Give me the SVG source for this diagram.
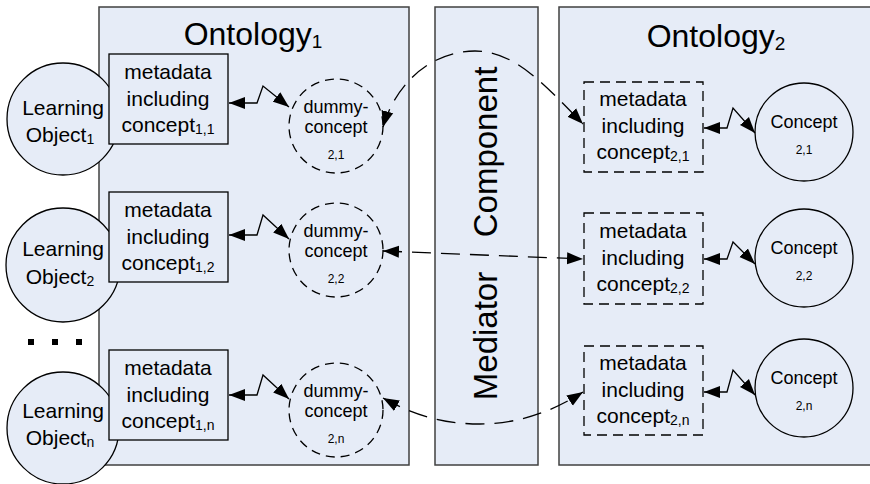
<svg xmlns="http://www.w3.org/2000/svg" width="870" height="484" viewBox="0 0 870 484">
<defs>
<style>
text{font-family:"Liberation Sans",Arial,sans-serif;fill:#000}
.panel{fill:#e6ecf7;stroke:#404040;stroke-width:1.5}
.node{fill:#e6ecf7;stroke:#000;stroke-width:1.3}
.dcirc{fill:#e6ecf7;stroke:#000;stroke-width:1.3;stroke-dasharray:9 6}
.dbox{fill:#e6ecf7;stroke:#000;stroke-width:1.3;stroke-dasharray:10 6}
.title{font-size:32px;text-anchor:middle}
.big{font-size:21px;text-anchor:middle}
.mid{font-size:18px;text-anchor:middle}
.small{font-size:12px;text-anchor:middle}
.sub{font-size:14px}
.zig{fill:none;stroke:#000;stroke-width:1.3;marker-start:url(#ah);marker-end:url(#ah)}
.map{fill:none;stroke:#000;stroke-width:1.3;stroke-dasharray:19 10;marker-start:url(#ah);marker-end:url(#ah)}
</style>
<marker id="ah" markerUnits="userSpaceOnUse" markerWidth="17" markerHeight="13" refX="16" refY="6" orient="auto-start-reverse" viewBox="0 0 17 12">
<path d="M0,0 L16,6 L0,12 z" fill="#000"/>
</marker>
</defs>

<g id="ontology1">
<rect class="panel" x="99" y="7" width="310" height="458"/>
<text class="title" x="253" y="45">Ontology<tspan font-size="19" dy="3">1</tspan></text>
</g>
<g id="mediator">
<rect class="panel" x="435" y="7" width="103" height="458"/>
<text font-size="33" text-anchor="middle" transform="translate(497,152) rotate(-90)">Component</text>
<text font-size="33" text-anchor="middle" transform="translate(497,336) rotate(-90)">Mediator</text>
</g>
<g id="ontology2">
<rect class="panel" x="559" y="7" width="320" height="458"/>
<text class="title" x="716" y="47">Ontology<tspan font-size="19" dy="3">2</tspan></text>
</g>

<g id="lo1">
<circle class="node" cx="63" cy="119" r="56"/>
<text class="big" x="63" y="115">Learning</text>
<text class="big" x="60" y="142">Object<tspan class="sub" dy="2">1</tspan></text>
</g>
<g id="lo2">
<circle class="node" cx="63" cy="265" r="57"/>
<text class="big" x="63" y="256">Learning</text>
<text class="big" x="60" y="284">Object<tspan class="sub" dy="2">2</tspan></text>
</g>
<g id="lo3">
<circle class="node" cx="63" cy="428" r="56"/>
<text class="big" x="63" y="418">Learning</text>
<text class="big" x="60" y="445">Object<tspan class="sub" dy="2">n</tspan></text>
</g>
<g id="dots">
<rect x="28" y="339" width="6" height="6"/>
<rect x="52" y="339" width="6" height="6"/>
<rect x="76" y="339" width="6" height="6"/>
</g>

<g id="meta11">
<rect class="node" x="109" y="54" width="119" height="90"/>
<text class="big" x="168" y="79">metadata</text>
<text class="big" x="168" y="106">including</text>
<text class="big" x="168" y="132">concept<tspan class="sub" dy="2">1,1</tspan></text>
</g>
<g id="meta12">
<rect class="node" x="109" y="192" width="119" height="90"/>
<text class="big" x="168" y="217">metadata</text>
<text class="big" x="168" y="244">including</text>
<text class="big" x="168" y="270">concept<tspan class="sub" dy="2">1,2</tspan></text>
</g>
<g id="meta1n">
<rect class="node" x="109" y="350" width="119" height="90"/>
<text class="big" x="168" y="375">metadata</text>
<text class="big" x="168" y="402">including</text>
<text class="big" x="168" y="428">concept<tspan class="sub" dy="2">1,n</tspan></text>
</g>

<g id="dummy1">
<circle class="dcirc" cx="336" cy="126" r="47"/>
<text class="mid" x="336" y="113">dummy-</text>
<text class="mid" x="336" y="133">concept</text>
<text class="small" x="336" y="159">2,1</text>
</g>
<g id="dummy2">
<circle class="dcirc" cx="336" cy="250" r="47"/>
<text class="mid" x="336" y="237">dummy-</text>
<text class="mid" x="336" y="257">concept</text>
<text class="small" x="336" y="283">2,2</text>
</g>
<g id="dummyn">
<circle class="dcirc" cx="336" cy="410" r="47"/>
<text class="mid" x="336" y="397">dummy-</text>
<text class="mid" x="336" y="417">concept</text>
<text class="small" x="336" y="443">2,n</text>
</g>

<g id="meta21">
<rect class="dbox" x="584" y="82" width="119" height="90"/>
<text class="big" x="643" y="106">metadata</text>
<text class="big" x="643" y="133">including</text>
<text class="big" x="643" y="159">concept<tspan class="sub" dy="2">2,1</tspan></text>
</g>
<g id="meta22">
<rect class="dbox" x="584" y="213" width="119" height="91"/>
<text class="big" x="643" y="238">metadata</text>
<text class="big" x="643" y="265">including</text>
<text class="big" x="643" y="291">concept<tspan class="sub" dy="2">2,2</tspan></text>
</g>
<g id="meta2n">
<rect class="dbox" x="584" y="346" width="119" height="89"/>
<text class="big" x="643" y="370">metadata</text>
<text class="big" x="643" y="397">including</text>
<text class="big" x="643" y="423">concept<tspan class="sub" dy="2">2,n</tspan></text>
</g>

<g id="concept21">
<circle class="node" cx="804" cy="132" r="49"/>
<text class="mid" x="804" y="128">Concept</text>
<text class="small" x="804" y="154">2,1</text>
</g>
<g id="concept22">
<circle class="node" cx="804" cy="258" r="49"/>
<text class="mid" x="804" y="254">Concept</text>
<text class="small" x="804" y="280">2,2</text>
</g>
<g id="concept2n">
<circle class="node" cx="804" cy="388" r="49"/>
<text class="mid" x="804" y="384">Concept</text>
<text class="small" x="804" y="410">2,n</text>
</g>

<g id="connectors">
<path class="zig" d="M229,103 H257 L263,86 L289,107"/>
<path class="zig" d="M229,235 H257 L263,215 L289,239"/>
<path class="zig" d="M229,395 H257 L263,375 L289,399"/>
<path class="zig" d="M704,128 H727 L733,108 L755,133"/>
<path class="zig" d="M704,259 H727 L733,242 L755,264"/>
<path class="zig" d="M704,392 H727 L733,370 L755,395"/>
<path class="map" d="M383,127 C395,85 430,51 475,51 C515,51 545,85 583,124"/>
<path class="map" d="M383,251 L583,259"/>
<path class="map" d="M383,398 C410,413 440,424 480,424 C520,424 555,410 583,392"/>
</g>
</svg>
